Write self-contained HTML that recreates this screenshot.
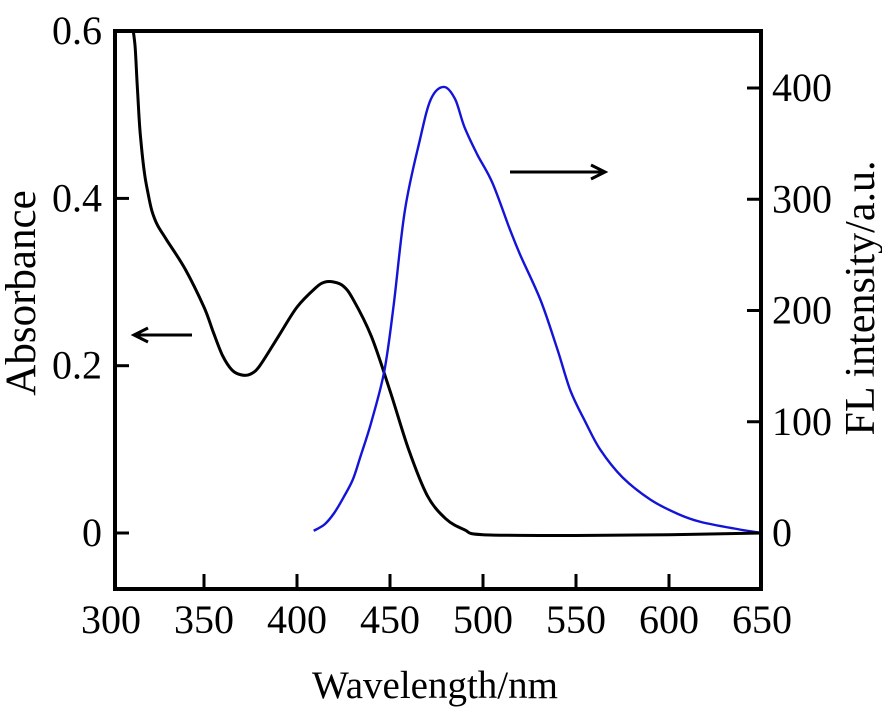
<!DOCTYPE html>
<html><head><meta charset="utf-8"><style>
html,body{margin:0;padding:0;background:#fff;}
svg{display:block;font-family:"Liberation Serif","Times New Roman",serif;}
</style></head><body>
<svg id="chart" width="882" height="709" viewBox="0 0 882 709" xmlns="http://www.w3.org/2000/svg">
<g id="marks"></g>
<g id="axes"></g>
</svg>
<script>
const absWavelengths = [312,313,314,315,316,318,320,322,325,330,340,350,355,360,365,370,375,380,390,400,410,415,420,425,430,440,450,460,470,480,490,500,550,600,650];
const absValues      = [0.6,0.58,0.54,0.5,0.47,0.43,0.405,0.385,0.368,0.35,0.315,0.27,0.24,0.212,0.195,0.189,0.19,0.2,0.235,0.27,0.293,0.3,0.3,0.295,0.28,0.235,0.17,0.1,0.045,0.017,0.004,-0.002,-0.003,-0.002,0.0];
const flWavelengths  = [409,415,420,425,430,434,440,447,452,458,466,472,479,485,490,497,505,514,520,531,540,547,555,563,575,590,605,617,635,650];
const flValues       = [2,8,18,32,48,68,100,146,205,290,353,390,401,390,365,340,315,275,250,209,165,128,100,75,50,30,17,10,4,0];
const xTicks = [300,350,400,450,500,550,600,650];
const xTickLabels = ["300","350","400","450","500","550","600","650"];
const yLeftTicks = [0,0.2,0.4,0.6];
const yLeftLabels = ["0","0.2","0.4","0.6"];
const yRightTicks = [0,100,200,300,400];
const yRightLabels = ["0","100","200","300","400"];

const NS="http://www.w3.org/2000/svg";
const X0=115,X1=761,Y0=31,Y1=589;
function xs(w){return 111+(w-300)*1.86;}
function yl(a){return 533-a*836.5;}
function yr(v){return 533-v*1.1125;}
const marks=document.getElementById('marks');
const axes=document.getElementById('axes');
function mk(tag,attrs,parent){const e=document.createElementNS(NS,tag);for(const k in attrs)e.setAttribute(k,attrs[k]);parent.appendChild(e);return e;}
function smooth(pts){
  let s='M'+pts[0][0].toFixed(1)+','+pts[0][1].toFixed(1);
  for(let i=0;i<pts.length-1;i++){
    const p0=pts[Math.max(0,i-1)],p1=pts[i],p2=pts[i+1],p3=pts[Math.min(pts.length-1,i+2)];
    const c1=[p1[0]+(p2[0]-p0[0])/6,p1[1]+(p2[1]-p0[1])/6];
    const c2=[p2[0]-(p3[0]-p1[0])/6,p2[1]-(p3[1]-p1[1])/6];
    s+=' C'+c1[0].toFixed(1)+','+c1[1].toFixed(1)+' '+c2[0].toFixed(1)+','+c2[1].toFixed(1)+' '+p2[0].toFixed(1)+','+p2[1].toFixed(1);
  }
  return s;
}
let p=mk('path',{d:smooth(absWavelengths.map((w,i)=>[xs(w),yl(absValues[i])])),fill:'none',stroke:'#000','stroke-width':3,'stroke-linejoin':'round'},marks);


p=mk('path',{d:smooth(flWavelengths.map((w,i)=>[xs(w),yr(flValues[i])])),fill:'none',stroke:'#1414d8','stroke-width':2.4,'stroke-linejoin':'round'},marks);



let f=mk('rect',{x:X0,y:Y0,width:X1-X0,height:Y1-Y0,fill:'none',stroke:'#000','stroke-width':4},axes);



xTicks.forEach((w,i)=>{
  const x=xs(w);
  if(i>0&&i<xTicks.length-1){const t=mk('line',{x1:x,x2:x,y1:Y1,y2:Y1-15,stroke:'#000','stroke-width':3},axes);
  
  }
  const tx=mk('text',{x:x,y:633,'font-size':40,'text-anchor':'middle'},axes);
  tx.textContent=xTickLabels[i];
  
  
});
yLeftTicks.forEach((a,i)=>{
  const y=yl(a);
  if(a<0.6){const t=mk('line',{x1:X0,x2:X0+14,y1:y,y2:y,stroke:'#000','stroke-width':3},axes);
  
  }
  const tx=mk('text',{x:102,y:y+13,'font-size':40,'text-anchor':'end'},axes);
  tx.textContent=yLeftLabels[i];
  
  
});
yRightTicks.forEach((v,i)=>{
  const y=yr(v);
  const t=mk('line',{x1:X1,x2:X1-14,y1:y,y2:y,stroke:'#000','stroke-width':3},axes);
  
  
  const tx=mk('text',{x:772,y:y+13,'font-size':40,'text-anchor':'start'},axes);
  tx.textContent=yRightLabels[i];
  
  
});
</script>
<svg style="position:absolute;left:0;top:0" width="882" height="709">
<text x="435" y="698" font-size="39" text-anchor="middle" font-family="Liberation Serif, serif">Wavelength/nm</text>
<text transform="translate(35,293) rotate(-90)" font-size="43" text-anchor="middle" font-family="Liberation Serif, serif">Absorbance</text>
<text transform="translate(874,298) rotate(-90)" font-size="42" text-anchor="middle" font-family="Liberation Serif, serif">FL intensity/a.u.</text>
<g stroke="#000" stroke-width="3" fill="none">
<line x1="192" y1="335" x2="135" y2="335"/><path d="M148,328 L134,335 L148,342"/></g>
<g stroke="#000" stroke-width="3" fill="none">
<line x1="510" y1="172" x2="604" y2="172"/><path d="M591,165 L605,172 L591,179"/></g>
</svg>
</body></html>
